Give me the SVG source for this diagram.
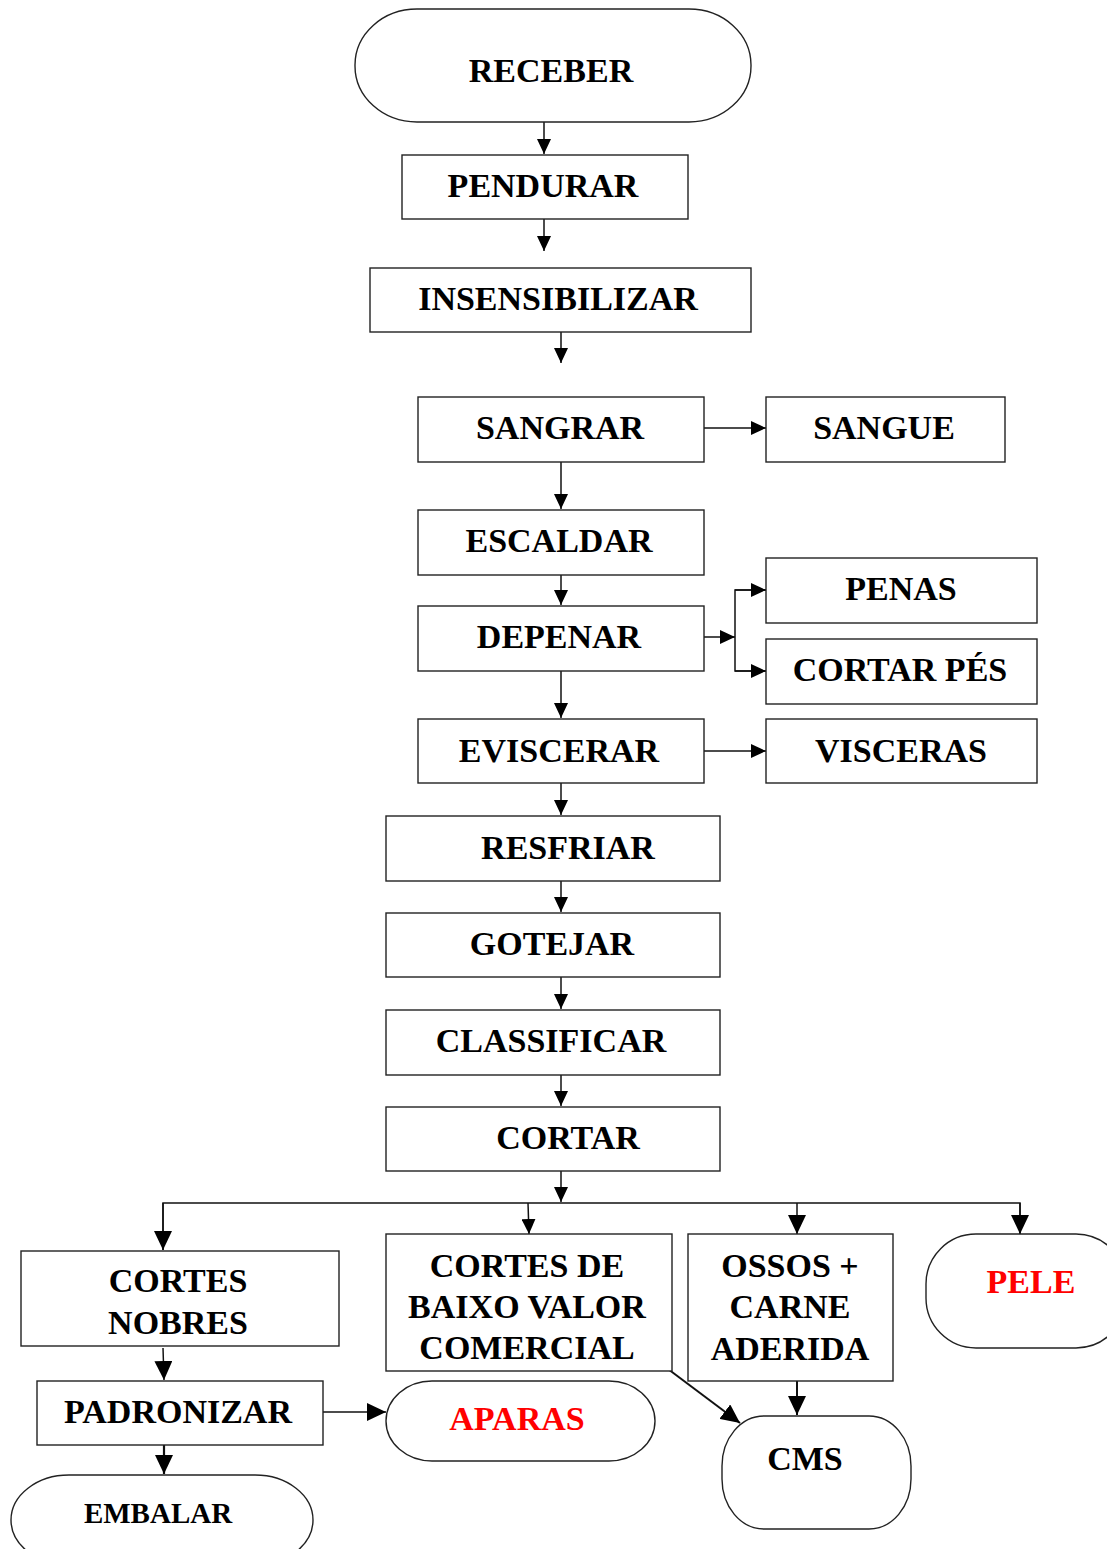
<svg xmlns="http://www.w3.org/2000/svg" width="1107" height="1549" viewBox="0 0 1107 1549">
<defs>
<marker id="ah" markerUnits="userSpaceOnUse" markerWidth="16" markerHeight="14" refX="15" refY="7" orient="auto">
<path d="M0,0 L15,7 L0,14 z" fill="#000"/>
</marker>
<marker id="ahL" markerUnits="userSpaceOnUse" markerWidth="20" markerHeight="18" refX="19" refY="9" orient="auto">
<path d="M0,0 L19,9 L0,18 z" fill="#000"/>
</marker>
<style>
.box{fill:#fff;stroke:#222;stroke-width:1.4}
.t{font-family:"Liberation Serif","Times New Roman",serif;font-weight:bold;font-size:34px;text-anchor:middle;fill:#000}
.red{fill:#ff0000}
.c{fill:none;stroke:#111;stroke-width:1.5}
</style>
</defs>
<rect width="1107" height="1549" fill="#fff"/>
<g id="connectors">
<line class="c" x1="544" y1="122" x2="544" y2="154" marker-end="url(#ah)"/>
<line class="c" x1="544" y1="219" x2="544" y2="251" marker-end="url(#ah)"/>
<line class="c" x1="561" y1="332" x2="561" y2="363" marker-end="url(#ah)"/>
<line class="c" x1="704" y1="428" x2="766" y2="428" marker-end="url(#ah)"/>
<line class="c" x1="561" y1="462" x2="561" y2="509" marker-end="url(#ah)"/>
<line class="c" x1="561" y1="575" x2="561" y2="605" marker-end="url(#ah)"/>
<line class="c" x1="704" y1="637" x2="735" y2="637" marker-end="url(#ah)"/>
<polyline class="c" points="766,590 735,590 735,671 766,671"/>
<line class="c" x1="735" y1="590" x2="766" y2="590" marker-end="url(#ah)"/>
<line class="c" x1="735" y1="671" x2="766" y2="671" marker-end="url(#ah)"/>
<line class="c" x1="561" y1="671" x2="561" y2="718" marker-end="url(#ah)"/>
<line class="c" x1="704" y1="751" x2="766" y2="751" marker-end="url(#ah)"/>
<line class="c" x1="561" y1="783" x2="561" y2="815" marker-end="url(#ah)"/>
<line class="c" x1="561" y1="881" x2="561" y2="912" marker-end="url(#ah)"/>
<line class="c" x1="561" y1="977" x2="561" y2="1009" marker-end="url(#ah)"/>
<line class="c" x1="561" y1="1075" x2="561" y2="1106" marker-end="url(#ah)"/>
<line class="c" x1="561" y1="1171" x2="561" y2="1202" marker-end="url(#ah)"/>
<polyline class="c" points="163,1250 163,1203 1020,1203 1020,1234"/>
<line class="c" x1="163" y1="1203" x2="163" y2="1250" marker-end="url(#ahL)"/>
<line class="c" x1="528" y1="1203" x2="529" y2="1234" marker-end="url(#ah)"/>
<line class="c" x1="797" y1="1203" x2="797" y2="1234" marker-end="url(#ahL)"/>
<line class="c" x1="1020" y1="1203" x2="1020" y2="1234" marker-end="url(#ahL)"/>
<line class="c" x1="163" y1="1348" x2="164" y2="1380" marker-end="url(#ahL)"/>
<line class="c" x1="323" y1="1412" x2="386" y2="1412" marker-end="url(#ahL)"/>
<line class="c" style="stroke-width:2.2" x1="164" y1="1435" x2="164" y2="1474" marker-end="url(#ahL)"/>
<line class="c" style="stroke-width:2" x1="664" y1="1366" x2="740" y2="1423" marker-end="url(#ahL)"/>
<line class="c" style="stroke-width:2" x1="797" y1="1377" x2="797" y2="1415" marker-end="url(#ahL)"/>
</g>
<g id="receber"><rect class="box" x="355" y="9" width="396" height="113" rx="62" ry="56"/><text class="t" x="551" y="82">RECEBER</text></g>
<g id="pendurar"><rect class="box" x="402" y="155" width="286" height="64"/><text class="t" x="543" y="197">PENDURAR</text></g>
<g id="insensibilizar"><rect class="box" x="370" y="268" width="381" height="64"/><text class="t" x="558" y="310">INSENSIBILIZAR</text></g>
<g id="sangrar"><rect class="box" x="418" y="397" width="286" height="65"/><text class="t" x="560" y="439">SANGRAR</text></g>
<g id="sangue"><rect class="box" x="766" y="397" width="239" height="65"/><text class="t" x="884" y="439">SANGUE</text></g>
<g id="escaldar"><rect class="box" x="418" y="510" width="286" height="65"/><text class="t" x="559" y="552">ESCALDAR</text></g>
<g id="depenar"><rect class="box" x="418" y="606" width="286" height="65"/><text class="t" x="559" y="648">DEPENAR</text></g>
<g id="penas"><rect class="box" x="766" y="558" width="271" height="65"/><text class="t" x="901" y="600">PENAS</text></g>
<g id="cortarpes"><rect class="box" x="766" y="639" width="271" height="65"/><text class="t" x="900" y="681">CORTAR PÉS</text></g>
<g id="eviscerar"><rect class="box" x="418" y="719" width="286" height="64"/><text class="t" x="559" y="762">EVISCERAR</text></g>
<g id="visceras"><rect class="box" x="766" y="719" width="271" height="64"/><text class="t" x="901" y="762">VISCERAS</text></g>
<g id="resfriar"><rect class="box" x="386" y="816" width="334" height="65"/><text class="t" x="568" y="859">RESFRIAR</text></g>
<g id="gotejar"><rect class="box" x="386" y="913" width="334" height="64"/><text class="t" x="552" y="955">GOTEJAR</text></g>
<g id="classificar"><rect class="box" x="386" y="1010" width="334" height="65"/><text class="t" x="551" y="1052">CLASSIFICAR</text></g>
<g id="cortar"><rect class="box" x="386" y="1107" width="334" height="64"/><text class="t" x="568" y="1149">CORTAR</text></g>
<g id="cortesnobres"><rect class="box" x="21" y="1251" width="318" height="95"/><text class="t" x="178" y="1292">CORTES</text><text class="t" x="178" y="1334">NOBRES</text></g>
<g id="cortesbaixo"><rect class="box" x="386" y="1234" width="286" height="137"/><text class="t" x="527" y="1277">CORTES DE</text><text class="t" x="527" y="1318">BAIXO VALOR</text><text class="t" x="527" y="1359">COMERCIAL</text></g>
<g id="ossos"><rect class="box" x="688" y="1234" width="205" height="147"/><text class="t" x="790" y="1277">OSSOS +</text><text class="t" x="790" y="1318">CARNE</text><text class="t" x="790" y="1360">ADERIDA</text></g>
<g id="pele"><rect class="box" x="926" y="1234" width="200" height="114" rx="50" ry="50"/><text class="t red" x="1031" y="1293">PELE</text></g>
<g id="padronizar"><rect class="box" x="37" y="1381" width="286" height="64"/><text class="t" x="178" y="1423">PADRONIZAR</text></g>
<g id="aparas"><rect class="box" x="386" y="1381" width="269" height="80" rx="46" ry="40"/><text class="t red" x="517" y="1430">APARAS</text></g>
<g id="cms"><rect class="box" x="722" y="1416" width="189" height="113" rx="42" ry="50"/><text class="t" x="805" y="1470">CMS</text></g>
<g id="embalar"><rect class="box" x="11" y="1475" width="302" height="90" rx="58" ry="45"/><text class="t" style="font-size:29px" x="158" y="1523">EMBALAR</text></g>
</svg>
